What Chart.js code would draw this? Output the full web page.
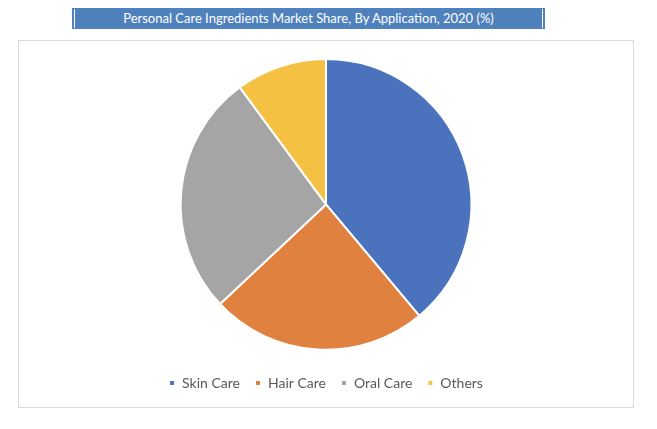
<!DOCTYPE html>
<html>
<head>
<meta charset="utf-8">
<script src="https://cdn.jsdelivr.net/npm/chart.js@4"></script>
<style>
  html, body { margin: 0; padding: 0; background: #fff; width: 657px; height: 429px; overflow: hidden; }
  #title {
    position: absolute; left: 72px; top: 8px; width: 473px; height: 21px;
    background: #4f81bd; color: #fff; font-family: Lato, "Open Sans", sans-serif; font-size: 13px;
    line-height: 21px; text-align: center; box-sizing: border-box;
  }
  #title:before, #title:after { content: ""; position: absolute; top: 1px; bottom: 1px; width: 1px; background: #fff; }
  #title:before { left: 2px; }
  #title:after { right: 2px; }
  #frame {
    position: absolute; left: 18px; top: 40px; width: 616px; height: 368px;
    border: 1px solid #d9d9d9; box-sizing: border-box;
  }
  #wrap { position: absolute; left: 19px; top: 41px; width: 614px; height: 366px; }
</style>
</head>
<body>
<div id="title">Personal Care Ingredients Market Share, By Application, 2020 (%)</div>
<div id="frame"></div>
<div id="wrap"><canvas id="c"></canvas></div>
<script>
const categories = ["Skin Care", "Hair Care", "Oral Care", "Others"];
const shares = [38.9, 24.1, 26.9, 10.1];
const colors = ["#4b72bd", "#e0813f", "#a5a5a5", "#f5c142"];

new Chart(document.getElementById("c"), {
  type: "pie",
  data: {
    labels: categories,
    datasets: [{
      data: shares,
      backgroundColor: colors,
      borderColor: "#ffffff",
      borderWidth: 2
    }]
  },
  options: {
    responsive: true,
    maintainAspectRatio: false,
    animation: false,
    layout: { padding: { top: 17, bottom: 7, left: 0, right: 0 } },
    plugins: {
      title: { display: false },
      tooltip: { enabled: false },
      legend: {
        position: "bottom",
        title: { display: true, text: "", font: { size: 1 }, padding: { top: 9, bottom: 0 } },
        labels: {
          boxWidth: 6,
          boxHeight: 6,
          padding: 15,
          color: "#595959",
          font: { family: "Lato", size: 14 }
        }
      }
    }
  }
});
</script>
</body>
</html>
